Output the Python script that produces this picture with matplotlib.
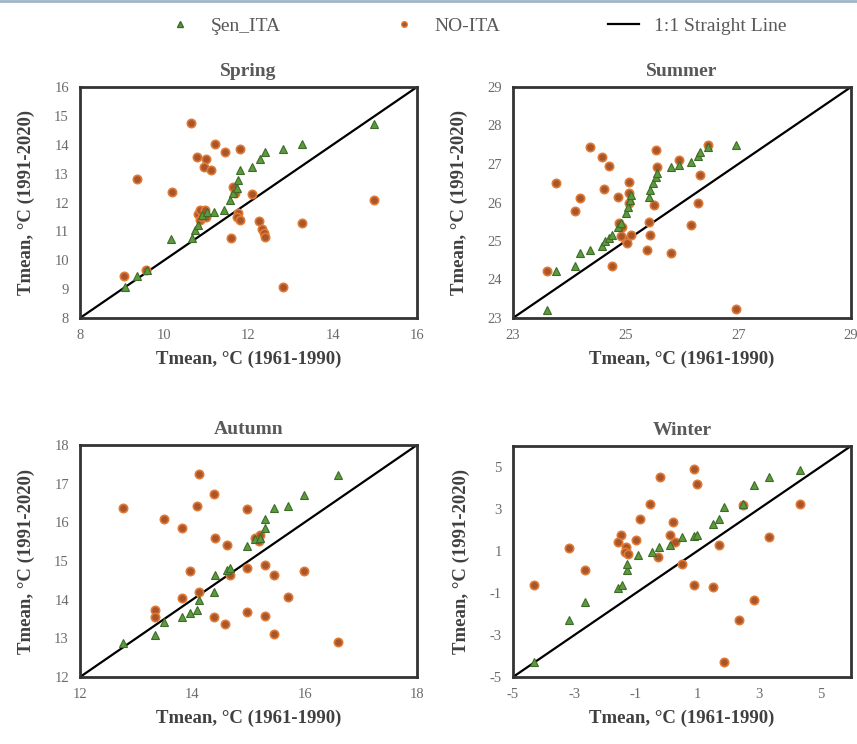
import numpy as np
import matplotlib
matplotlib.use("Agg")
import matplotlib.pyplot as plt
from matplotlib.lines import Line2D

plt.rcParams['font.family'] = ['Liberation Serif', 'DejaVu Serif']
plt.rcParams['axes.unicode_minus'] = False

# NO-ITA points (x: 1961-1990, y: 1991-2020)
spring_no_x = [9.05, 9.56, 9.36, 10.18, 10.63, 10.77, 10.99, 10.95, 11.10, 11.21, 11.45, 11.79,
               10.80, 10.85, 10.90, 10.95, 11.00, 10.85, 10.97, 11.64, 11.68, 12.09, 11.76, 11.72,
               11.79, 11.58, 12.24, 12.32, 12.36, 12.40, 12.82, 13.27, 14.97]
spring_no_y = [9.46, 9.67, 12.82, 12.37, 14.75, 13.56, 13.52, 13.24, 13.14, 14.02, 13.75, 13.87,
               11.60, 11.40, 11.50, 11.70, 11.50, 11.75, 11.74, 12.55, 12.32, 12.29, 11.62, 11.49,
               11.39, 10.76, 11.37, 11.07, 10.93, 10.82, 9.07, 11.30, 12.09]
spring_sen_x = [9.07, 9.35, 9.58, 10.16, 10.65, 10.73, 10.81, 10.89, 11.01, 11.17, 11.41, 11.56,
                11.64, 11.72, 11.76, 11.80, 12.08, 12.28, 12.40, 12.82, 13.27, 14.97]
spring_sen_y = [9.07, 9.44, 9.67, 10.73, 10.76, 11.05, 11.22, 11.57, 11.66, 11.68, 11.74, 12.09,
                12.32, 12.49, 12.78, 13.12, 13.24, 13.52, 13.75, 13.87, 14.01, 14.73]

summer_no_x = [23.61, 23.77, 24.10, 24.19, 24.37, 24.58, 24.70, 24.62, 24.75, 24.86, 24.88, 24.94,
               25.00, 24.91, 25.06, 25.06, 25.06, 25.09, 25.03, 25.38, 25.44, 25.41, 25.53, 25.56,
               25.50, 25.80, 25.95, 26.16, 26.28, 26.32, 26.46, 26.96]
summer_no_y = [24.21, 26.50, 25.79, 26.11, 27.43, 27.19, 26.96, 26.34, 24.34, 26.15, 25.46, 25.37,
               25.03, 25.12, 26.54, 26.24, 25.98, 25.16, 24.94, 24.77, 25.16, 25.50, 27.36, 26.93,
               25.94, 24.68, 27.10, 25.42, 26.00, 26.71, 27.49, 23.23]
summer_sen_x = [23.61, 23.77, 24.10, 24.19, 24.37, 24.58, 24.64, 24.70, 24.75, 24.86, 24.91, 25.00,
                25.04, 25.07, 25.09, 25.41, 25.44, 25.49, 25.53, 25.56, 25.80, 25.95, 26.16, 26.28,
                26.32, 26.46, 26.96]
summer_sen_y = [23.20, 24.21, 24.34, 24.68, 24.77, 24.86, 24.99, 25.07, 25.16, 25.37, 25.46, 25.72,
                25.89, 26.07, 26.20, 26.15, 26.32, 26.50, 26.65, 26.77, 26.91, 26.97, 27.06, 27.21,
                27.32, 27.45, 27.49]

autumn_no_x = [12.77, 13.33, 13.34, 13.49, 13.81, 13.81, 13.96, 14.08, 14.11, 14.11, 14.38, 14.41,
               14.38, 14.61, 14.58, 14.67, 14.97, 14.97, 14.97, 15.12, 15.18, 15.21, 15.30, 15.30,
               15.45, 15.45, 15.71, 15.98, 16.59]
autumn_no_y = [16.38, 13.72, 13.56, 16.08, 14.04, 15.86, 14.73, 16.42, 17.25, 14.19, 16.73, 15.60,
               13.56, 15.41, 13.37, 14.65, 16.34, 14.82, 13.69, 15.60, 15.51, 15.66, 14.89, 13.58,
               14.65, 13.10, 14.08, 14.73, 12.91]
autumn_sen_x = [12.77, 13.33, 13.49, 13.81, 13.96, 14.08, 14.11, 14.38, 14.41, 14.61, 14.67, 14.97,
                15.12, 15.21, 15.30, 15.30, 15.45, 15.71, 15.98, 16.59]
autumn_sen_y = [12.89, 13.08, 13.43, 13.56, 13.65, 13.72, 13.99, 14.19, 14.65, 14.78, 14.82, 15.38,
                15.56, 15.60, 15.86, 16.08, 16.38, 16.42, 16.71, 17.22]

winter_no_x = [-4.31, -3.19, -2.66, -1.48, -1.59, -1.32, -1.37, -1.26, -0.99, -0.88, -0.55, -0.20,
               -0.27, 0.20, 0.11, 0.27, 0.49, 0.90, 0.99, 0.88, 1.52, 1.70, 1.87, 2.36, 2.47, 2.84,
               3.32, 4.34]
winter_no_y = [-0.63, 1.16, 0.08, 1.75, 1.43, 1.19, 0.95, 0.87, 1.51, 2.54, 3.25, 4.52,
               0.71, 2.38, 1.75, 1.43, 0.37, 4.92, 4.21, -0.63, -0.71, 1.27, -4.29, -2.30, 3.17, -1.35,
               1.67, 3.25]
winter_sen_x = [-4.31, -3.19, -2.66, -1.59, -1.45, -1.30, -1.30, -0.93, -0.49, -0.24, 0.11, 0.49,
                0.88, 0.99, 1.52, 1.70, 1.87, 2.47, 2.84, 3.32, 4.34]
winter_sen_y = [-4.29, -2.30, -1.43, -0.75, -0.63, 0.08, 0.40, 0.79, 0.95, 1.19, 1.27, 1.67,
                1.70, 1.75, 2.30, 2.54, 3.10, 3.22, 4.13, 4.52, 4.84]

seasons = ["Spring", "Summer", "Autumn", "Winter"]
lims = [(8, 16), (23, 29), (12, 18), (-5, 6)]
xticks = [[8, 10, 12, 14, 16], [23, 25, 27, 29], [12, 14, 16, 18], [-5, -3, -1, 1, 3, 5]]
yticks = [list(range(8, 17)), list(range(23, 30)), list(range(12, 19)), [-5, -3, -1, 1, 3, 5]]
no_x = [spring_no_x, summer_no_x, autumn_no_x, winter_no_x]
no_y = [spring_no_y, summer_no_y, autumn_no_y, winter_no_y]
sen_x = [spring_sen_x, summer_sen_x, autumn_sen_x, winter_sen_x]
sen_y = [spring_sen_y, summer_sen_y, autumn_sen_y, winter_sen_y]

green = '#4E8A35'
orange = '#E07A35'
gray = '#595959'

fig = plt.figure(figsize=(8.57, 7.44), dpi=100)

W, H = 857, 744
boxes = [(80, 87, 417, 318), (513, 87, 851, 318), (80, 445, 417, 677), (513, 446, 851, 677)]

for i, s in enumerate(seasons):
    l, t, r, b = boxes[i]
    ax = fig.add_axes([l / W, 1 - b / H, (r - l) / W, (b - t) / H])
    lo, hi = lims[i]
    ax.plot([lo, hi], [lo, hi], color='black', lw=1.6, zorder=2)
    ax.plot(no_x[i], no_y[i], 'o', ms=6, mfc='#A9552A', mec=orange, mew=1.2, zorder=3, ls='none')
    ax.plot(sen_x[i], sen_y[i], '^', ms=6, mfc='#5C9B3C', mec='#3E6B2A', mew=0.8, zorder=4, ls='none')
    ax.set_xlim(lo, hi)
    ax.set_ylim(lo, hi)
    ax.set_xticks(xticks[i])
    ax.set_yticks(yticks[i])
    ax.tick_params(length=0, labelsize=10.5, labelcolor='#6b6b6b', pad=8)
    for sp in ax.spines.values():
        sp.set_linewidth(2)
        sp.set_color('#333333')
    ax.set_title(s, fontsize=14, fontweight='bold', color=gray, pad=8)
    ax.set_xlabel("Tmean, °C (1961-1990)", fontsize=13.5, fontweight='bold', color='#404040', labelpad=6)
    ax.set_ylabel("Tmean, °C (1991-2020)", fontsize=13.5, fontweight='bold', color='#404040', labelpad=14)

# thin border line at the top of the picture
fig.add_artist(Line2D([0, 1], [0.999, 0.999], color='#9FB4C4', lw=2))

handles = [
    Line2D([], [], marker='^', ls='none', ms=4.5, mfc='#5C9B3C', mec='#3E6B2A'),
    Line2D([], [], marker='o', ls='none', ms=4, mfc='#A9552A', mec=orange),
    Line2D([], [], color='black', lw=1.6),
]
fig.legend(handles, ["Şen_ITA", "NO-ITA", "1:1 Straight Line"], loc='upper center',
           bbox_to_anchor=(0.555, 1.0), ncol=3, frameon=False, fontsize=14,
           labelcolor=gray, columnspacing=5.5, handlelength=1.6, handletextpad=0.8)

fig.savefig("out.png", dpi=100)
